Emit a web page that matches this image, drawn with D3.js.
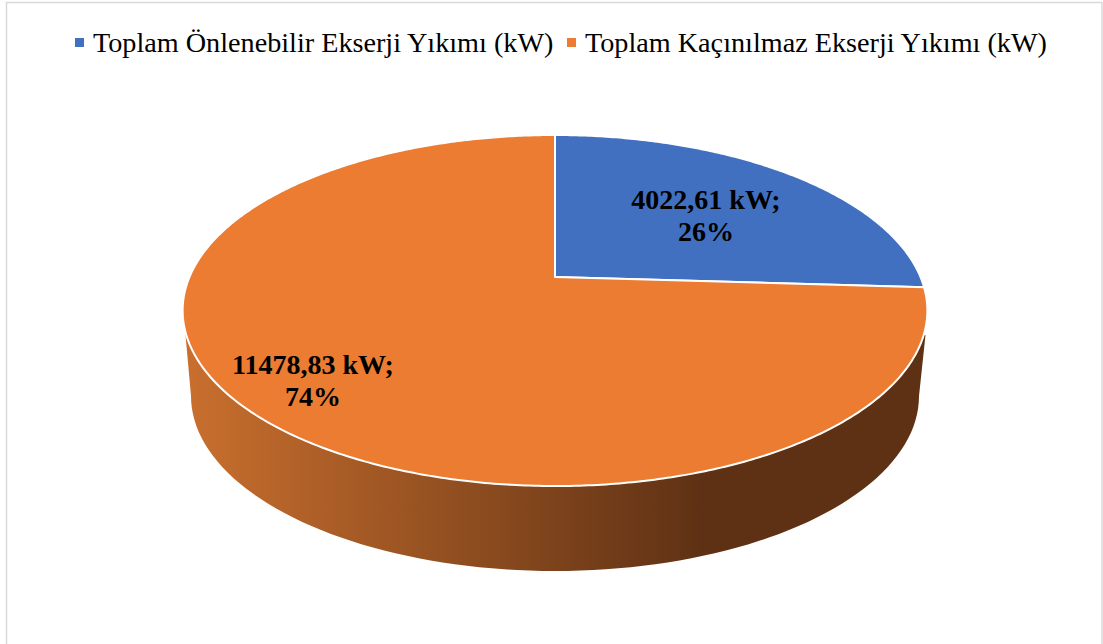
<!DOCTYPE html>
<html>
<head>
<meta charset="utf-8">
<script src="https://cdn.jsdelivr.net/npm/d3@7"></script>
<style>
  html, body { margin: 0; padding: 0; background: #fff; }
  svg { display: block; }
  text { font-family: "Liberation Serif", serif; fill: #000; }
</style>
</head>
<body>
<svg id="chart" width="1103" height="644"></svg>
<script>
// Data
var categories = ["Toplam Önlenebilir Ekserji Yıkımı (kW)", "Toplam Kaçınılmaz Ekserji Yıkımı (kW)"];
var values = [4022.61, 11478.83];
var valueLabels = ["4022,61 kW;", "11478,83 kW;"];
var percentLabels = ["26%", "74%"];
var colors = ["#4270c0", "#eb7c31"];

var svg = d3.select("#chart");

// chart frame, bottom edge is cut off by the window
svg.append("path")
    .attr("d", "M6.5,644V2.5H1102V644")
    .attr("fill", "none")
    .attr("stroke", "#d9d9d9")
    .attr("stroke-width", 1.5);

// perspective of the disc: centre of the pie sits above the centre of the ellipse
var cx = 555, apexY = 277, k = 365.5;
var c = 0.191, a = -116.2;
function project(angle) {
  var u = Math.sin(angle), v = Math.cos(angle), w = 1 / (c * v + 1);
  return [cx + k * u * w, (a * v + apexY) * w];
}

var pie = d3.pie().sort(null).value(function(d) { return d; });
var arcs = pie(values);

function rimPoints(start, end) {
  var n = Math.max(2, Math.ceil((end - start) / 0.01));
  return d3.range(n + 1).map(function(i) { return project(start + (end - start) * i / n); });
}

// side wall
var defs = svg.append("defs");
var grad = defs.append("linearGradient")
    .attr("id", "wall")
    .attr("gradientUnits", "userSpaceOnUse")
    .attr("x1", 185).attr("x2", 925).attr("y1", 0).attr("y2", 0);
grad.append("stop").attr("offset", "0%").attr("stop-color", "#c96f2e");
grad.append("stop").attr("offset", "70%").attr("stop-color", "#5e3114");
grad.append("stop").attr("offset", "100%").attr("stop-color", "#5e3114");

var bottomCy = 396, bottomRy = 175, bottomRx = 364;
var wall = d3.path();
wall.moveTo(185.5, 335);
d3.range(0, 181, 2).forEach(function(deg) {
  var t = deg * Math.PI / 180;
  wall.lineTo(cx - bottomRx * Math.cos(t), bottomCy + bottomRy * Math.sin(t));
});
wall.lineTo(925.5, 335);
wall.lineTo(cx, 400);
wall.closePath();
svg.append("path")
    .attr("d", wall.toString())
    .attr("fill", "url(#wall)");

// top face
var line = d3.line();
svg.selectAll("path.slice")
    .data(arcs)
  .enter().append("path")
    .attr("class", "slice")
    .attr("d", function(d) {
      return line([[cx, apexY]].concat(rimPoints(d.startAngle, d.endAngle))) + "Z";
    })
    .attr("fill", function(d, i) { return colors[i]; })
    .attr("stroke", "#fff")
    .attr("stroke-width", 2)
    .attr("stroke-linejoin", "round");

// data labels
var labelPos = [[706, 209], [313, 374]];
arcs.forEach(function(d, i) {
  var t = svg.append("text")
      .attr("text-anchor", "middle")
      .attr("font-size", 28)
      .attr("font-weight", "bold");
  t.append("tspan").attr("x", labelPos[i][0]).attr("y", labelPos[i][1]).text(valueLabels[i]);
  t.append("tspan").attr("x", labelPos[i][0]).attr("y", labelPos[i][1] + 32).text(percentLabels[i]);
});

// legend
var legendX = [75, 567];
categories.forEach(function(name, i) {
  svg.append("rect")
      .attr("x", legendX[i]).attr("y", 38)
      .attr("width", 9).attr("height", 9)
      .attr("fill", colors[i]);
  svg.append("text")
      .attr("x", legendX[i] + 18).attr("y", 52)
      .attr("font-size", 28.2)
      .text(name);
});
</script>
</body>
</html>
